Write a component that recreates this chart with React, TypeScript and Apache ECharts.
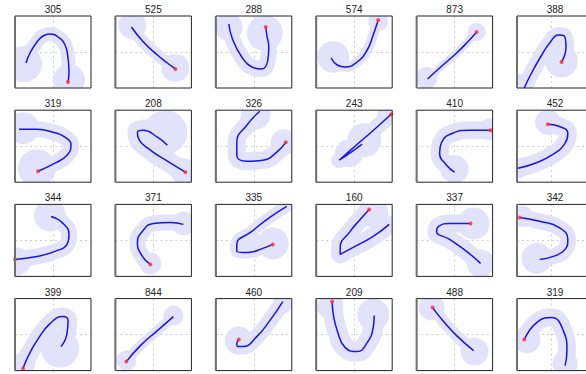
import React, { useEffect, useRef } from "react";
import * as echarts from "echarts";

// Panel titles (row-major, 6 columns x 4 rows)
const TITLES = [
  "305", "525", "288", "574", "873", "388",
  "319", "208", "326", "243", "410", "452",
  "344", "371", "335", "160", "337", "342",
  "399", "844", "460", "209", "488", "319",
];

// Trajectory points per panel (x to the right, y downward); last point = red marker
const CURVES: number[][][] = [
  [[11,47],[15,37],[22,26],[28,20],[35,18],[43,21],[50,29],[53,42],[54,56],[53,66]],
  [[16,11],[28,26],[42,39],[52,47],[60,53]],
  [[13,8],[17,24],[26,41],[36,51],[46,53],[52,44],[53,31],[51,19],[50,11]],
  [[15,42],[21,49],[29,51],[41,46],[51,34],[57,19],[62,4]],
  [[11,63],[23,52],[40,37],[51,26],[60,16]],
  [[8,72],[16,57],[26,41],[36,27],[46,19],[52,20],[54,31],[49,46]],
  [[4,19],[22,19],[38,22],[50,27],[56,35],[52,45],[40,53],[23,61]],
  [[52,35],[42,27],[28,20],[22,22],[23,28],[35,40],[52,51],[70,62]],
  [[44,1],[31,15],[21,32],[21,45],[31,51],[47,50],[61,42],[70,32]],
  [[46,34],[35,42],[26,48],[23,50],[28,45.5],[40,35],[55,22],[75,4]],
  [[38,62],[30,55],[23,43],[25,32],[36,23],[53,20],[74,20]],
  [[1,58],[20,53],[40,44],[53,33],[56,23],[46,16],[34,14]],
  [[36,12],[47,18],[54,30],[52,40],[40,47],[22,52],[0,55]],
  [[68,20],[55,18],[38,19],[27,27],[22,38],[27,52],[35,60]],
  [[71,2],[54,13],[36,27],[21,40],[21,47],[32,48],[47,44],[57,40]],
  [[73,20],[57,32],[37,43],[24,50],[24,43],[34,27],[44,15],[53,5]],
  [[64,59],[50,47],[33,35],[20,27],[22,22],[33,19],[54,19]],
  [[25,55],[40,52],[53,45],[56,35],[46,23],[26,17],[3,13]],
  [[46,48],[52,35],[53,22],[48,18],[35,25],[22,42],[13,58],[8,70]],
  [[58,18],[42,32],[25,47],[11,63]],
  [[67,3],[54,22],[41,38],[27,48],[22,48],[21,45],[23,41]],
  [[58,17],[57,29],[51,44],[41,53],[29,49],[21,32],[17,15],[16,3]],
  [[57,52],[40,37],[27,23],[16,9]],
  [[53,67],[55,52],[51,32],[38,19],[23,23],[8,41]],
];

// Uncertainty blobs per panel: [x, y, radius]
const BLOBS: number[][][] = [
  [[9,48,18],[54,64,16]],
  [[17,9,14],[60,52,14]],
  [[13,11,14],[49,17,18]],
  [[17,41,16],[62,5,10]],
  [[10,62,11],[60,16,9]],
  [[49,45,18],[3,67,10]],
  [[8,18,16],[22,58,19]],
  [[50,22,22],[30,22,13],[68,61,13]],
  [[40,4,15],[68,32,13]],
  [[33,43,14],[48,30,17],[71,5,10]],
  [[38,59,14],[73,19,11]],
  [[34,12,14],[2,58,11]],
  [[35,11,16],[2,57,14]],
  [[68,19,12],[35,59,11]],
  [[57,39,16],[25,43,11],[36,38,10]],
  [[57,8,15]],
  [[57,19,16],[64,59,14]],
  [[22,54,17],[6,12,12]],
  [[45,50,19],[8,66,12]],
  [[58,17,10],[11,62,10]],
  [[23,42,14],[67,5,10]],
  [[57,16,16],[14,8,13]],
  [[58,53,14],[15,9,13]],
  [[11,41,15],[53,65,14]],
];

// Band half-width along each trajectory
const TUBE_R = [7, 6, 8, 5, 4, 8, 8, 10, 9, 8, 9, 9, 8, 8, 6, 9, 9, 8, 9, 5, 8, 10, 6, 9];

const X_MAX = 76;
const Y_MAX = 72;
const COLS = 6;
const ROWS = 4;
const PW = 76;
const PH = 72;
const colLeft = (c: number) => 15 + c * 100.4;
const rowTop = (r: number) => 16 + r * 94.2;

const BAND = "#e2e3fb";
const BLUE = "#1414ec";
const RED = "#ff3030";

export default function App() {
  const ref = useRef<HTMLDivElement>(null);
  useEffect(() => {
    if (!ref.current) return;
    const chart = echarts.init(ref.current, undefined, { renderer: "svg" });
    const grids: any[] = [];
    const xAxes: any[] = [];
    const yAxes: any[] = [];
    const series: any[] = [];
    const graphics: any[] = [];

    // white masks over the gaps between panels (clip the bands to their boxes)
    for (let c = 0; c <= COLS; c++) {
      const x0 = c === 0 ? -5 : colLeft(c - 1) + PW;
      const x1 = c === COLS ? 700 : colLeft(c);
      graphics.push({
        type: "rect", z: 2, silent: true,
        shape: { x: x0, y: -5, width: x1 - x0, height: 400 },
        style: { fill: "#fff" },
      });
    }
    for (let r = 0; r <= ROWS; r++) {
      const y0 = r === 0 ? -5 : rowTop(r - 1) + PH;
      const y1 = r === ROWS ? 500 : rowTop(r);
      graphics.push({
        type: "rect", z: 2, silent: true,
        shape: { x: -5, y: y0, width: 700, height: y1 - y0 },
        style: { fill: "#fff" },
      });
    }

    TITLES.forEach((t, i) => {
      const col = i % COLS;
      const row = Math.floor(i / COLS);
      const left = colLeft(col);
      const top = rowTop(row);
      grids.push({ left, top, width: PW, height: PH, show: false });
      const split = {
        show: true, showMinLine: false, showMaxLine: false,
        lineStyle: { color: "#cfcfcf", type: [2, 3], width: 1 },
      };
      xAxes.push({
        gridIndex: i, type: "value", min: 0, max: X_MAX, interval: 38,
        axisLine: { show: false }, axisTick: { show: false }, axisLabel: { show: false },
        splitLine: split,
      });
      yAxes.push({
        gridIndex: i, type: "value", min: 0, max: Y_MAX, interval: 36, inverse: true,
        axisLine: { show: false }, axisTick: { show: false }, axisLabel: { show: false },
        splitLine: split,
      });
      const curve = CURVES[i];
      series.push({
        type: "line", xAxisIndex: i, yAxisIndex: i, data: curve, smooth: true,
        symbol: "none", z: 1, silent: true, clip: false,
        lineStyle: { color: BAND, width: TUBE_R[i] * 2, cap: "round", join: "round" },
      });
      series.push({
        type: "custom", xAxisIndex: i, yAxisIndex: i, data: BLOBS[i], z: 1,
        silent: true,
        renderItem: (params: any, api: any) => {
          const c = api.coord([api.value(0), api.value(1)]);
          const s = api.size([api.value(2), 0]);
          return {
            type: "circle",
            shape: { cx: c[0], cy: c[1], r: Math.abs(s[0]) },
            style: { fill: BAND },
          };
        },
      });
      series.push({
        type: "line", xAxisIndex: i, yAxisIndex: i, data: curve, smooth: true,
        symbol: "none", z: 3, silent: true, clip: false,
        lineStyle: { color: BLUE, width: 1.5 },
      });
      series.push({
        type: "scatter", xAxisIndex: i, yAxisIndex: i, data: [curve[curve.length - 1]],
        symbolSize: 4, z: 4, silent: true, clip: false,
        itemStyle: { color: RED },
      });
      graphics.push({
        type: "rect", z: 5, silent: true,
        shape: { x: left, y: top, width: PW, height: PH },
        style: { fill: "none", stroke: "#222", lineWidth: 1 },
      });
      graphics.push({
        type: "line", z: 5, silent: true,
        shape: { x1: left, y1: top, x2: left, y2: top + PH },
        style: { stroke: "#707070", lineWidth: 2 },
      });
      graphics.push({
        type: "text", x: left + PW / 2, y: top - 1.5, z: 6, silent: true,
        style: {
          text: t, align: "center", verticalAlign: "bottom",
          fontSize: 10, fontFamily: "Liberation Sans, Arial, sans-serif", fill: "#222",
        },
      });
    });
    chart.setOption({
      animation: false,
      backgroundColor: "#fff",
      grid: grids,
      xAxis: xAxes,
      yAxis: yAxes,
      series,
      graphic: graphics,
    });
    return () => chart.dispose();
  }, []);
  return (
    <div
      ref={ref}
      style={{ position: "fixed", left: 0, top: 0, width: 586, height: 374 }}
    />
  );
}
